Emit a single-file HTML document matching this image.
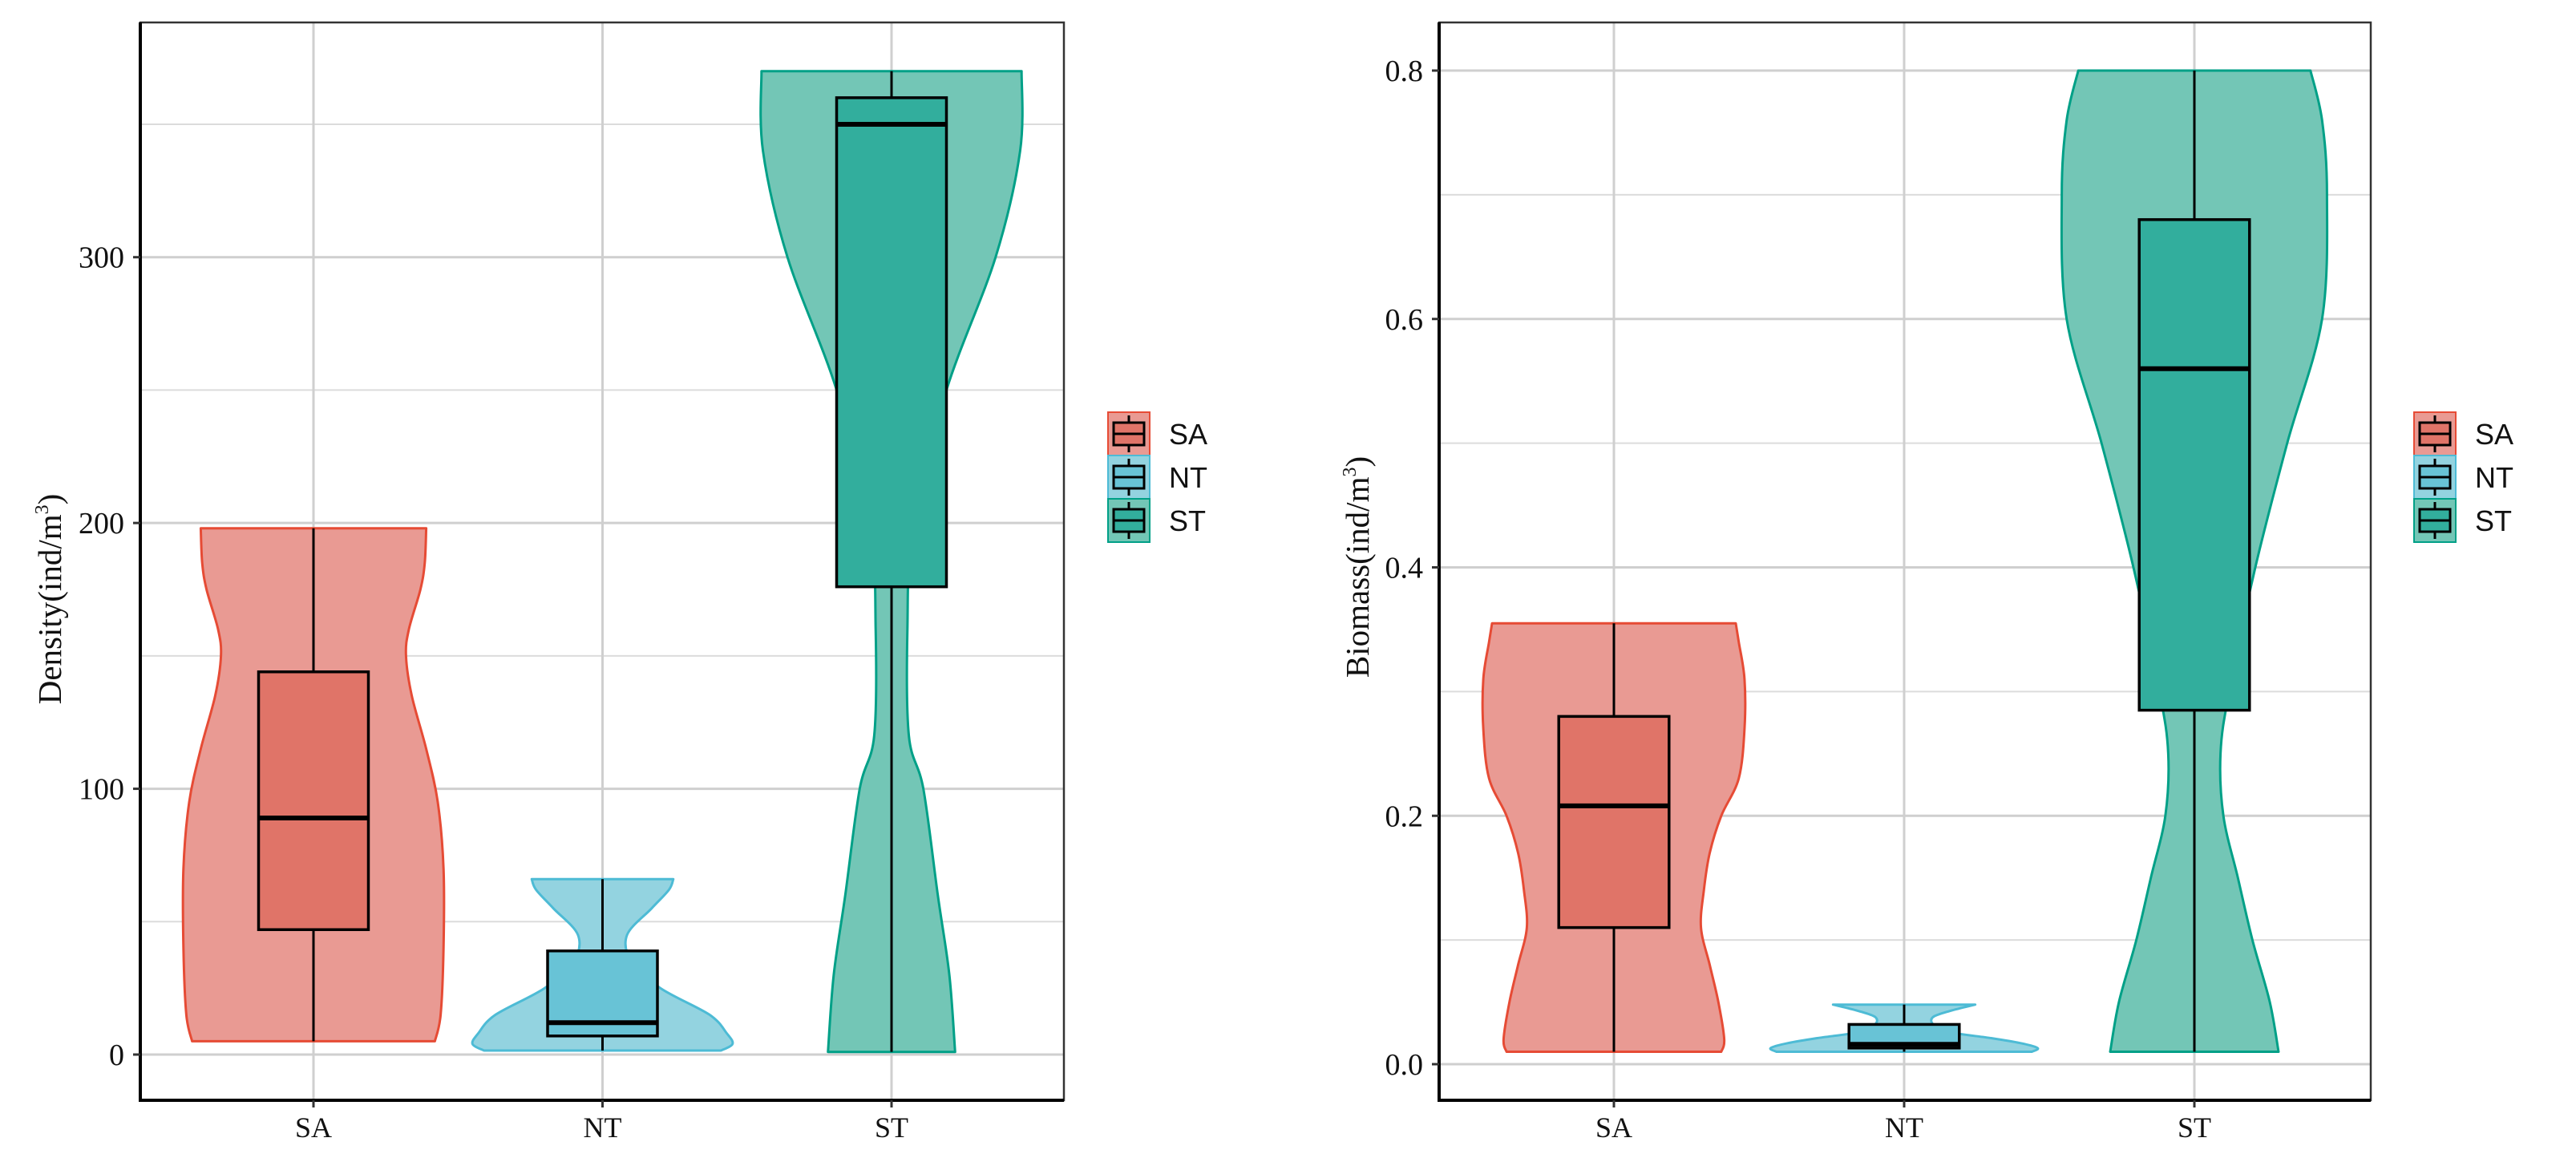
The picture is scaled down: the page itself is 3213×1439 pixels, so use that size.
<!DOCTYPE html>
<html><head><meta charset="utf-8"><style>
html,body{margin:0;padding:0;background:#fff;}
svg{display:block;}
</style></head><body>
<svg id="chart" width="3213" height="1439" xmlns="http://www.w3.org/2000/svg"></svg>
<script>
const categories = ["SA","NT","ST"];
// Density panel data
const densityWhiskerLow = [5, 1.5, 1];
const densityWhiskerHigh = [198, 66, 370];
const densityQ1 = [47, 7, 176];
const densityMedian = [89, 12, 350];
const densityQ3 = [144, 39, 360];
const densityTicks = [0, 100, 200, 300];
const densityMinor = [50, 150, 250, 350];
// violin profiles: [value, half-width as fraction of category spacing]
const densityViolinSA = [[5,.42],[15,.44],[40,.45],[70,.45],[95,.43],[115,.39],[135,.34],[150,.32],[160,.33],[175,.37],[185,.385],[198,.39]];
const densityViolinNT = [[1.5,.41],[4,.45],[8,.43],[15,.37],[25,.2],[35,.1],[45,.085],[55,.17],[62,.23],[66,.245]];
const densityViolinST = [[1,.22],[30,.2],[60,.16],[100,.11],[120,.06],[160,.055],[200,.075],[250,.19],[300,.36],[340,.445],[370,.45]];
// Biomass panel data
const biomassWhiskerLow = [0.01, 0.01, 0.01];
const biomassWhiskerHigh = [0.355, 0.048, 0.8];
const biomassQ1 = [0.11, 0.013, 0.285];
const biomassMedian = [0.208, 0.016, 0.56];
const biomassQ3 = [0.28, 0.032, 0.68];
const biomassTicks = [0, 0.2, 0.4, 0.6, 0.8];
const biomassMinor = [0.1, 0.3, 0.5, 0.7];
const biomassViolinSA = [[0.01,.37],[0.02,.38],[0.05,.36],[0.08,.33],[0.11,.3],[0.14,.31],[0.17,.33],[0.2,.37],[0.23,.43],[0.27,.45],[0.31,.45],[0.34,.43],[0.355,.42]];
const biomassViolinNT = [[0.01,.44],[0.013,.46],[0.017,.4],[0.021,.3],[0.026,.15],[0.032,.1],[0.038,.1],[0.043,.16],[0.048,.245]];
const biomassViolinST = [[0.01,.29],[0.05,.26],[0.1,.2],[0.15,.15],[0.2,.1],[0.25,.09],[0.3,.12],[0.4,.21],[0.5,.32],[0.6,.44],[0.7,.457],[0.76,.44],[0.8,.4]];

const violinFill = ["#E99A93","#93D3E0","#73C6B6"];
const violinStroke = ["#E64B35","#4DBBD5","#00A087"];
const boxFill = ["#E07468","#68C3D6","#32AE9D"];

const svg = document.getElementById('chart');
const NS = "http://www.w3.org/2000/svg";
function el(tag, attrs, parent){
  const e = document.createElementNS(NS, tag);
  for (const k in attrs) e.setAttribute(k, attrs[k]);
  (parent||svg).appendChild(e);
  return e;
}
function spline(pts){
  // Catmull-Rom segments, starting from pts[0] (assumed current point)
  let d = '';
  for (let i=0;i<pts.length-1;i++){
    const p0 = pts[Math.max(0,i-1)], p1 = pts[i], p2 = pts[i+1], p3 = pts[Math.min(pts.length-1,i+2)];
    const c1 = [p1[0]+(p2[0]-p0[0])/6, p1[1]+(p2[1]-p0[1])/6];
    const c2 = [p2[0]-(p3[0]-p1[0])/6, p2[1]-(p3[1]-p1[1])/6];
    d += ` C${c1[0].toFixed(1)},${c1[1].toFixed(1)} ${c2[0].toFixed(1)},${c2[1].toFixed(1)} ${p2[0].toFixed(1)},${p2[1].toFixed(1)}`;
  }
  return d;
}
function panel(cfg){
  const g = el('g', {});
  
  
  const yS = v => cfg.y0 + (v - 0) * (cfg.yTop - cfg.y0) / cfg.vTop;
  const xS = i => cfg.xFirst + i * cfg.spacing;
  cfg.minor.forEach(v => {
    const l = el('line', {x1:cfg.left, x2:cfg.right, y1:yS(v), y2:yS(v), stroke:'#dcdcdc', 'stroke-width':2}, g);
    
    
  });
  cfg.ticks.forEach(v => {
    const l = el('line', {x1:cfg.left, x2:cfg.right, y1:yS(v), y2:yS(v), stroke:'#cfcfcf', 'stroke-width':3}, g);
    
    
  });
  categories.forEach((c,i) => {
    const l = el('line', {x1:xS(i), x2:xS(i), y1:cfg.top, y2:cfg.bottom, stroke:'#cfcfcf', 'stroke-width':3}, g);
    
    
  });
  cfg.violins.forEach((prof, i) => {
    const cx = xS(i);
    const right = prof.map(p => [cx + p[1]*cfg.spacing, yS(p[0])]);
    const left = prof.slice().reverse().map(p => [cx - p[1]*cfg.spacing, yS(p[0])]);
    let d = `M${right[0][0].toFixed(1)},${right[0][1].toFixed(1)}` + spline(right);
    d += ` L${left[0][0].toFixed(1)},${left[0][1].toFixed(1)}` + spline(left) + ' Z';
    const p = el('path', {d:d, fill: violinFill[i], stroke: violinStroke[i], 'stroke-width':3, 'stroke-linejoin':'round'}, g);
    
    
  });
  categories.forEach((c, i) => {
    const cx = xS(i), hw = 0.19*cfg.spacing;
    const w = el('line', {x1:cx, x2:cx, y1:yS(cfg.wlo[i]), y2:yS(cfg.whi[i]), stroke:'#000', 'stroke-width':3}, g);
    
    
    const r = el('rect', {x:cx-hw, y:yS(cfg.q3[i]), width:2*hw, height:yS(cfg.q1[i])-yS(cfg.q3[i]), fill:boxFill[i], stroke:'#000', 'stroke-width':3.5}, g);
    
    
    const m = el('line', {x1:cx-hw, x2:cx+hw, y1:yS(cfg.med[i]), y2:yS(cfg.med[i]), stroke:'#000', 'stroke-width':6}, g);
    
    
  });
  const f = el('rect', {x:cfg.left, y:cfg.top, width:cfg.right-cfg.left, height:cfg.bottom-cfg.top, fill:'none', stroke:'#333', 'stroke-width':2.5}, g);
  
  
  const ax = el('path', {d:`M${cfg.left},${cfg.top} V${cfg.bottom} H${cfg.right}`, fill:'none', stroke:'#000', 'stroke-width':4}, g);
  
  
  cfg.ticks.forEach(v => {
    const t = el('line', {x1:cfg.left-9, x2:cfg.left, y1:yS(v), y2:yS(v), stroke:'#333', 'stroke-width':3}, g);
    
    
    const tx = el('text', {x:cfg.left-20, y:yS(v)+13, 'text-anchor':'end', 'font-family':'"Liberation Serif", serif', 'font-size':38, fill:'#111'}, g);
    tx.textContent = cfg.fmt(v);
    
    
  });
  categories.forEach((c, i) => {
    const t = el('line', {x1:xS(i), x2:xS(i), y1:cfg.bottom, y2:cfg.bottom+9, stroke:'#333', 'stroke-width':3}, g);
    
    
    const tx = el('text', {x:xS(i), y:cfg.bottom+46, 'text-anchor':'middle', 'font-family':'"Liberation Serif", serif', 'font-size':36, fill:'#111'}, g);
    tx.textContent = c;
    
    
  });
  const yt = el('text', {x:0, y:0, transform:`translate(${cfg.titleX},${cfg.titleY}) rotate(-90)`, 'text-anchor':'middle', 'font-family':'"Liberation Serif", serif', 'font-size':41, fill:'#111'}, g);
  
  
  yt.appendChild(document.createTextNode(cfg.title + '(ind/m'));
  const sup = el('tspan', {'font-size':24, dy:-16}, yt);
  sup.textContent = '3';
  const cl = el('tspan', {dy:16}, yt);
  cl.textContent = ')';
  const lg = el('g', {}, g);
  
  
  categories.forEach((c, i) => {
    const y = 514 + i*54;
    const e = el('g', {}, lg);
    
    
    el('rect', {x:cfg.legX, y:y, width:52, height:54, fill:violinFill[i], stroke:violinStroke[i], 'stroke-width':2}, e);
    el('line', {x1:cfg.legX+26, x2:cfg.legX+26, y1:y+4, y2:y+50, stroke:'#000', 'stroke-width':3}, e);
    el('rect', {x:cfg.legX+7, y:y+13, width:38, height:28, fill:boxFill[i], stroke:'#000', 'stroke-width':3}, e);
    el('line', {x1:cfg.legX+7, x2:cfg.legX+45, y1:y+27, y2:y+27, stroke:'#000', 'stroke-width':3}, e);
    const t = el('text', {x:cfg.legX+76, y:y+40, 'font-family':'"Liberation Sans", sans-serif', 'font-size':36, fill:'#111'}, e);
    t.textContent = c;
  });
}
panel({name:'density-panel', left:175, right:1327, top:28, bottom:1372, y0:1315, yTop:155, vTop:350,
  xFirst:391, spacing:360.5, ticks:densityTicks, minor:densityMinor, fmt:v=>String(v),
  violins:[densityViolinSA, densityViolinNT, densityViolinST],
  wlo:densityWhiskerLow, whi:densityWhiskerHigh, q1:densityQ1, med:densityMedian, q3:densityQ3,
  title:'Density', titleX:76, titleY:747, legX:1382});
panel({name:'biomass-panel', left:1795, right:2957, top:28, bottom:1372, y0:1327, yTop:88, vTop:0.8,
  xFirst:2013, spacing:362, ticks:biomassTicks, minor:biomassMinor, fmt:v=>v.toFixed(1),
  violins:[biomassViolinSA, biomassViolinNT, biomassViolinST],
  wlo:biomassWhiskerLow, whi:biomassWhiskerHigh, q1:biomassQ1, med:biomassMedian, q3:biomassQ3,
  title:'Biomass', titleX:1707, titleY:707, legX:3011});
</script>
</body></html>
